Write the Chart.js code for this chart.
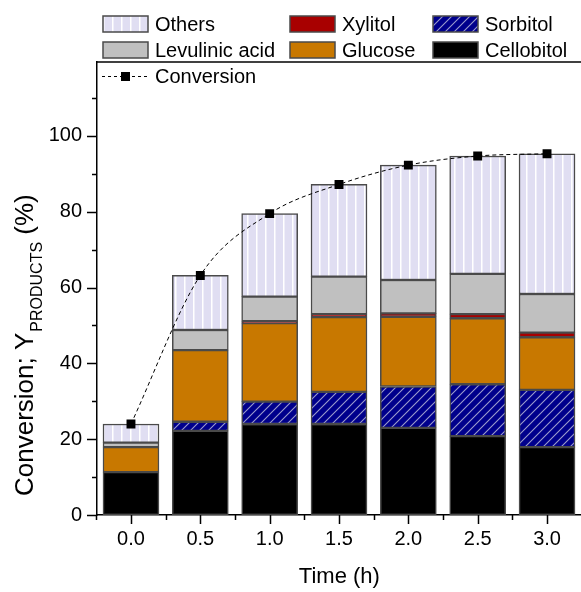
<!DOCTYPE html>
<html><head><meta charset="utf-8">
<script src="https://cdn.jsdelivr.net/npm/chart.js@4"></script>
<style>html,body{margin:0;padding:0;overflow:hidden;background:#fff;width:581px;height:592px}#wrap{width:588px;height:592px}</style>
</head><body><div id="wrap"><canvas id="c" width="588" height="592"></canvas></div>
<script>
// ---- data ----
const times = [0.0, 0.5, 1.0, 1.5, 2.0, 2.5, 3.0];
const xTickLabels = [0.0, 0.5, 1.0, 1.5, 2.0, 2.5, 3.0];
const yTickLabels = [0, 20, 40, 60, 80, 100];
const cellobitol = [11.3, 22.2, 24.0, 24.0, 23.0, 20.8, 17.9];
const sorbitol   = [0.0, 2.4, 5.9, 8.5, 10.9, 13.7, 15.1];
const glucose    = [6.6, 18.9, 20.7, 19.7, 18.4, 17.4, 13.9];
const xylitol    = [0.0, 0.0, 0.5, 0.8, 0.9, 1.1, 1.2];
const levulinic  = [1.2, 5.3, 6.5, 9.9, 8.8, 10.6, 10.2];
const others     = [4.9, 14.4, 21.9, 24.3, 30.3, 31.1, 37.0];
const conversion = [24.0, 63.2, 79.5, 87.2, 92.3, 94.7, 95.3];

const FONT = '"Liberation Sans", Arial, sans-serif';
const canvas = document.getElementById('c');
const ctx = canvas.getContext('2d');

function othersPattern(){
  const c = document.createElement('canvas'); c.width = 9; c.height = 9;
  const g = c.getContext('2d');
  g.fillStyle = '#E0DEF2'; g.fillRect(0,0,9,9);
  g.fillStyle = '#FFFFFF'; g.fillRect(4,0,1.5,9);
  return ctx.createPattern(c, 'repeat');
}
function sorbitolPattern(){
  const s = 9;
  const c = document.createElement('canvas'); c.width = s; c.height = s;
  const g = c.getContext('2d');
  g.fillStyle = '#00008C'; g.fillRect(0,0,s,s);
  g.strokeStyle = '#9C9CCC'; g.lineWidth = 1.1;
  g.beginPath();
  g.moveTo(0,s); g.lineTo(s,0);
  g.moveTo(-1,1); g.lineTo(1,-1);
  g.moveTo(s-1,s+1); g.lineTo(s+1,s-1);
  g.stroke();
  return ctx.createPattern(c, 'repeat');
}

const toXY = arr => times.map((t,i)=>({x:t, y:arr[i]}));
const bar = (label, arr, fill) => ({
  type:'bar', label, data: toXY(arr), backgroundColor: fill,
  borderColor:'#4a4a4a', borderWidth:1.5, borderSkipped:false,
  barThickness:56, stack:'p', order:1
});

const datasets = [
  bar('Cellobitol', cellobitol, '#000000'),
  bar('Sorbitol', sorbitol, sorbitolPattern()),
  bar('Glucose', glucose, '#C87800'),
  bar('Xylitol', xylitol, '#A80000'),
  bar('Levulinic acid', levulinic, '#C0C0C0'),
  bar('Others', others, othersPattern()),
  {type:'line', label:'Conversion', data: toXY(conversion), borderColor:'#000', borderWidth:1,
   borderDash:[4,3], pointStyle:'rect', pointRadius:6.3, pointBackgroundColor:'#000',
   pointBorderColor:'#000', pointBorderWidth:0, cubicInterpolationMode:'monotone',
   fill:false, stack:'c', order:0}
];

const legendRows = [['Others','Xylitol','Sorbitol'],['Levulinic acid','Glucose','Cellobitol']];
const legendCols = [103, 290, 433];
const legendRowY = [24, 50];

const deco = {
  id:'deco',
  afterDraw(chart){
    const {ctx, scales:{x, y}, chartArea:a} = chart;
    ctx.save();
    ctx.strokeStyle = '#000'; ctx.lineWidth = 1.5;
    // top frame line
    ctx.beginPath(); ctx.moveTo(a.left, a.top); ctx.lineTo(a.right, a.top); ctx.stroke();
    // y ticks
    ctx.beginPath();
    for (let v = 0; v <= 110; v += 10){
      const py = Math.round(y.getPixelForValue(v)) + 0.5;
      const len = (v % 20 === 0) ? 10 : 5;
      ctx.moveTo(a.left - len, py); ctx.lineTo(a.left, py);
    }
    // x ticks
    for (let k = -1; k <= 13; k++){
      const v = k * 0.25;
      const px = Math.round(x.getPixelForValue(v)) + 0.5;
      const len = (k % 2 === 0) ? 9 : 5;
      ctx.moveTo(px, a.bottom); ctx.lineTo(px, a.bottom + len);
    }
    ctx.stroke();

    // axis titles
    ctx.fillStyle = '#000';
    ctx.font = '22px ' + FONT; ctx.textAlign = 'center'; ctx.textBaseline = 'middle';
    ctx.fillText('Time (h)', (a.left + a.right)/2, 577);

    ctx.save();
    ctx.translate(33, 496); ctx.rotate(-Math.PI/2);
    ctx.textAlign = 'left'; ctx.textBaseline = 'alphabetic';
    ctx.font = '26px ' + FONT;
    const t1 = 'Conversion; Y';
    ctx.fillText(t1, 0, 0);
    let w = ctx.measureText(t1).width + 1;
    ctx.font = '16px ' + FONT;
    ctx.fillText('PRODUCTS', w, 9);
    w += ctx.measureText('PRODUCTS').width;
    ctx.font = '26px ' + FONT;
    ctx.fillText(' (%)', w, 0);
    ctx.restore();

    // legend
    ctx.font = '20px ' + FONT; ctx.textAlign = 'left'; ctx.textBaseline = 'middle';
    legendRows.forEach((row, r) => {
      row.forEach((lab, cIdx) => {
        const ds = chart.data.datasets.find(d => d.label === lab);
        const sx = legendCols[cIdx], sy = legendRowY[r] - 8;
        ctx.fillStyle = ds.backgroundColor;
        ctx.fillRect(sx, sy, 45, 16);
        ctx.strokeStyle = '#4a4a4a'; ctx.lineWidth = 1.5;
        ctx.strokeRect(sx, sy, 45, 16);
        ctx.fillStyle = '#000';
        ctx.fillText(lab, sx + 52, legendRowY[r] + 1);
      });
    });
    // conversion legend
    const cy = 76;
    const conv = chart.data.datasets.find(d => d.label === 'Conversion');
    ctx.strokeStyle = '#000'; ctx.lineWidth = 1; ctx.setLineDash([3,3]);
    ctx.beginPath(); ctx.moveTo(102, cy + 0.5); ctx.lineTo(148, cy + 0.5); ctx.stroke();
    ctx.setLineDash([]);
    ctx.fillStyle = conv.pointBackgroundColor;
    ctx.fillRect(121, cy - 4, 9, 9);
    ctx.fillStyle = '#000';
    ctx.fillText(conv.label, 155, cy + 1);
    ctx.restore();
  }
};

new Chart(ctx, {
  data: { datasets },
  options: {
    responsive:false, animation:false, devicePixelRatio:1,
    layout:{ padding:{ top:62, left:0, right:0, bottom:0 } },
    plugins:{ legend:{display:false}, tooltip:{enabled:false}, title:{display:false} },
    scales:{
      x:{ type:'linear', min:-0.245, max:3.25, stacked:true, offset:false,
          grid:{display:false, drawTicks:false, offset:false},
          border:{display:true, color:'#000', width:1.5},
          ticks:{ font:{family:FONT, size:20}, color:'#000', padding:12, maxRotation:0, autoSkip:false,
                  callback: v => Number(v).toFixed(1) },
          afterBuildTicks: s => { s.ticks = xTickLabels.map(v => ({value:v})); },
          afterFit: s => { s.height = 77; } },
      y:{ type:'linear', min:0, max:119.5, stacked:true,
          grid:{display:false, drawTicks:false},
          border:{display:true, color:'#000', width:1.5},
          ticks:{ font:{family:FONT, size:20}, color:'#000', padding:15 },
          afterBuildTicks: s => { s.ticks = yTickLabels.map(v => ({value:v})); },
          afterFit: s => { s.width = 97; } }
    }
  },
  plugins:[deco]
});
</script></body></html>
